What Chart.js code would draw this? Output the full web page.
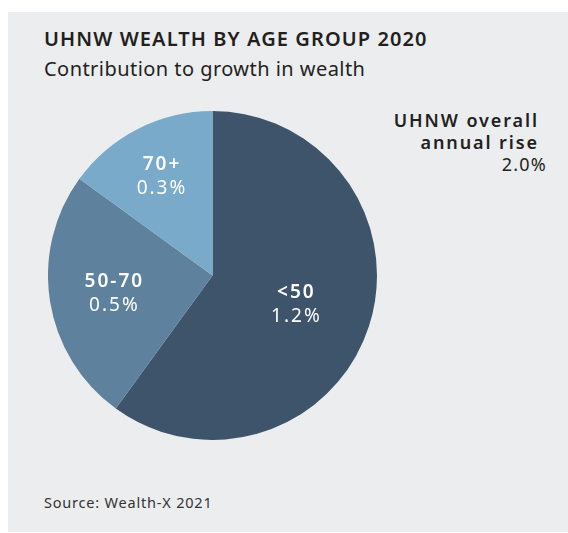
<!DOCTYPE html>
<html>
<head>
<meta charset="utf-8">
<script src="https://cdn.jsdelivr.net/npm/chart.js@4.4.0/dist/chart.umd.min.js"></script>
<style>
    html, body { margin: 0; padding: 0; background: #ffffff; }
    body { width: 568px; height: 533px; position: relative; overflow: hidden; font-family: "Noto Sans", sans-serif; color: #231f20; }
    .panel { position: absolute; left: 8px; top: 12px; width: 560px; height: 520px; background: #ecedef; }
    .title { position: absolute; left: 44px; top: 25px; font-size: 20px; font-weight: 600; letter-spacing: 1.1px; white-space: nowrap; }
    .subtitle { position: absolute; left: 44px; top: 55px; font-size: 20px; font-weight: 400; letter-spacing: 0.45px; white-space: nowrap; }
    .note { position: absolute; right: 29px; top: 109px; font-size: 18px; line-height: 22px; text-align: right; white-space: nowrap; letter-spacing: 1.9px; }
    .note b { font-weight: 600; }
    .note .val { margin-right: -8px; letter-spacing: 1.2px; }
    .source { position: absolute; left: 44px; top: 492px; font-size: 14.5px; letter-spacing: 0.8px; white-space: nowrap; color: #333; }
    #pieWrap { position: absolute; left: 48px; top: 111px; width: 329px; height: 329px; }
</style>
</head>
<body>
<div class="panel"></div>
<div class="title">UHNW WEALTH BY AGE GROUP 2020</div>
<div class="subtitle">Contribution to growth in wealth</div>
<div class="note"><b>UHNW overall<br>annual rise</b><br><span class="val">2.0%</span></div>
<div class="source">Source: Wealth-X 2021</div>
<div id="pieWrap"><canvas id="pieChart" width="329" height="329"></canvas></div>
<script>
const ageGroups = ['<50', '50-70', '70+'];
const growthValues = [1.2, 0.5, 0.3];
const sliceColors = ['#3e546a', '#5e829e', '#79aaca'];
// how far out (fraction of radius) each label sits
const labelRadius = [0.53, 0.61, 0.69];

const sliceLabels = {
    id: 'sliceLabels',
    afterDatasetsDraw(chart) {
        const ctx = chart.ctx;
        const meta = chart.getDatasetMeta(0);
        meta.data.forEach((arc, i) => {
            const p = arc.getProps(['x', 'y', 'startAngle', 'endAngle', 'outerRadius']);
            const mid = (p.startAngle + p.endAngle) / 2;
            const r = p.outerRadius * labelRadius[i];
            const x = p.x + Math.cos(mid) * r;
            const y = p.y + Math.sin(mid) * r;
            ctx.save();
            ctx.fillStyle = '#ffffff';
            ctx.textAlign = 'center';
            ctx.textBaseline = 'alphabetic';
            ctx.letterSpacing = '2px';
            ctx.font = '600 19px "Noto Sans"';
            ctx.fillText(ageGroups[i], x + 1, y - 4);
            ctx.font = '400 19px "Noto Sans"';
            ctx.fillText(growthValues[i].toFixed(1) + '%', x + 1, y + 20);
            ctx.restore();
        });
    }
};

new Chart(document.getElementById('pieChart').getContext('2d'), {
    type: 'pie',
    data: {
        labels: ageGroups,
        datasets: [{
            data: growthValues,
            backgroundColor: sliceColors,
            borderWidth: 0,
            hoverOffset: 0
        }]
    },
    options: {
        responsive: false,
        animation: false,
        rotation: 0,
        layout: { padding: 0 },
        plugins: {
            legend: { display: false },
            tooltip: { enabled: false }
        }
    },
    plugins: [sliceLabels]
});
</script>
</body>
</html>
